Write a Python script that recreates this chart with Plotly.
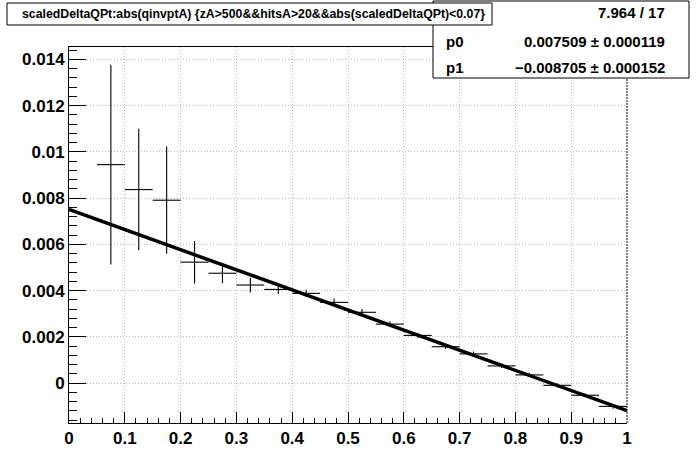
import plotly.graph_objects as go

# ---- data ----
bin_centers = [0.075, 0.125, 0.175, 0.225, 0.275, 0.325, 0.375, 0.425, 0.475, 0.525,
               0.575, 0.625, 0.675, 0.725, 0.775, 0.825, 0.875, 0.925, 0.975]
bin_half_width = 0.025
profile_values = [0.00945, 0.00837, 0.00791, 0.00523, 0.00475, 0.00424, 0.00405, 0.00388,
                  0.00349, 0.00306, 0.00255, 0.00206, 0.00157, 0.00126, 0.00074, 0.00035,
                  -0.00010, -0.00053, -0.00101]
profile_errors = [0.00432, 0.00263, 0.00232, 0.00092, 0.00043, 0.00032, 0.00020, 0.00016,
                  0.00017, 0.00014, 0.00012, 0.00010, 0.00010, 0.00010, 0.00009, 0.00009,
                  0.00008, 0.00008, 0.00010]
fit_p0 = 0.007509
fit_p1 = -0.008705
fit_x = [0.0, 1.0]
fit_y = [fit_p0 + fit_p1 * x for x in fit_x]

x_tickvals = [0, 0.1, 0.2, 0.3, 0.4, 0.5, 0.6, 0.7, 0.8, 0.9, 1]
x_ticktext = ["0", "0.1", "0.2", "0.3", "0.4", "0.5", "0.6", "0.7", "0.8", "0.9", "1"]
y_tickvals = [0, 0.002, 0.004, 0.006, 0.008, 0.01, 0.012, 0.014]
y_ticktext = ["0", "0.002", "0.004", "0.006", "0.008", "0.01", "0.012", "0.014"]

title_text = "scaledDeltaQPt:abs(qinvptA) {zA&gt;500&amp;&amp;hitsA&gt;20&amp;&amp;abs(scaledDeltaQPt)&lt;0.07}"
stats_rows = [("", "7.964 / 17"), ("p0", "0.007509 \u00b1 0.000119"), ("p1", "\u22120.008705 \u00b1 0.000152")]

# ---- layout geometry (pixels) ----
W, H = 696, 472
L, R, T, B = 69, 627, 47, 423
def px(xp):
    return (xp - L) / (R - L)
def py(yp):
    return (B - yp) / (B - T)

FONT = "Liberation Sans, Arial, Helvetica, sans-serif"

fig = go.Figure()

fig.add_trace(go.Scatter(
    x=bin_centers, y=profile_values, mode="markers",
    marker=dict(size=1, color="black", opacity=0),
    error_x=dict(type="constant", value=bin_half_width, width=0, thickness=1.1, color="black"),
    error_y=dict(type="data", array=profile_errors, width=0, thickness=1.1, color="black"),
    showlegend=False, hoverinfo="skip",
))
fig.add_trace(go.Scatter(
    x=fit_x, y=fit_y, mode="lines", line=dict(color="black", width=3.5),
    showlegend=False, hoverinfo="skip",
))

fig.update_layout(
    width=W, height=H,
    margin=dict(l=L, r=W - R, t=T, b=H - B, pad=0),
    paper_bgcolor="white", plot_bgcolor="white",
    font=dict(family=FONT, color="black"),
    showlegend=False,
)
GRID = dict(showgrid=True, gridcolor="#b8b8b8", griddash="1px,2px", gridwidth=1)
fig.update_xaxes(
    range=[0, 1], tickvals=x_tickvals, ticktext=x_ticktext,
    ticks="inside", ticklen=11, tickwidth=1, tickcolor="black",
    minor=dict(ticks="inside", ticklen=5, dtick=0.02, tick0=0, tickcolor="black", showgrid=False),
    showline=True, linecolor="black", linewidth=1, mirror=True,
    zeroline=False,
    tickfont=dict(family=FONT, size=17, weight="bold"),
    **GRID,
)
fig.update_yaxes(
    range=[-0.00173, 0.01454], tickvals=y_tickvals, ticktext=y_ticktext,
    ticks="inside", ticklen=17, tickwidth=1, tickcolor="black",
    minor=dict(ticks="inside", ticklen=8, dtick=0.0004, tick0=0, tickcolor="black", showgrid=False),
    showline=True, linecolor="black", linewidth=1, mirror=False,
    zeroline=False,
    tickfont=dict(family=FONT, size=17, weight="bold"),
    **GRID,
)

shapes = []
# right frame edge (dotted, dark)
shapes.append(dict(type="line", xref="x domain", yref="y domain", x0=1, x1=1, y0=0, y1=1,
                   line=dict(color="black", width=1, dash="2px,1px"), layer="above"))
# stats box
shapes.append(dict(type="rect", xref="paper", yref="paper",
                   x0=px(433), x1=px(689), y0=py(78), y1=py(1),
                   fillcolor="white", line=dict(color="black", width=1), layer="above"))
# title box
shapes.append(dict(type="rect", xref="paper", yref="paper",
                   x0=px(7), x1=px(492), y0=py(25), y1=py(3),
                   fillcolor="white", line=dict(color="black", width=1), layer="above"))
fig.update_layout(shapes=shapes)

ann = []
ann.append(dict(xref="paper", yref="paper", x=px(253), y=py(14), text=title_text,
                showarrow=False, xanchor="center", yanchor="middle",
                font=dict(family=FONT, size=12.3, weight="bold", color="black")))
row_y = [13, 41, 67]
for (label, value), yy in zip(stats_rows, row_y):
    if label:
        ann.append(dict(xref="paper", yref="paper", x=px(444), y=py(yy), text=label,
                        showarrow=False, xanchor="left", yanchor="middle",
                        font=dict(family=FONT, size=15, weight="bold", color="black")))
    ann.append(dict(xref="paper", yref="paper", x=px(667), y=py(yy), text=value,
                    showarrow=False, xanchor="right", yanchor="middle",
                    font=dict(family=FONT, size=15, weight="bold", color="black")))
fig.update_layout(annotations=ann)

fig.write_html("out.html", config={"displayModeBar": False},
               post_script="document.body.style.margin='0';")
